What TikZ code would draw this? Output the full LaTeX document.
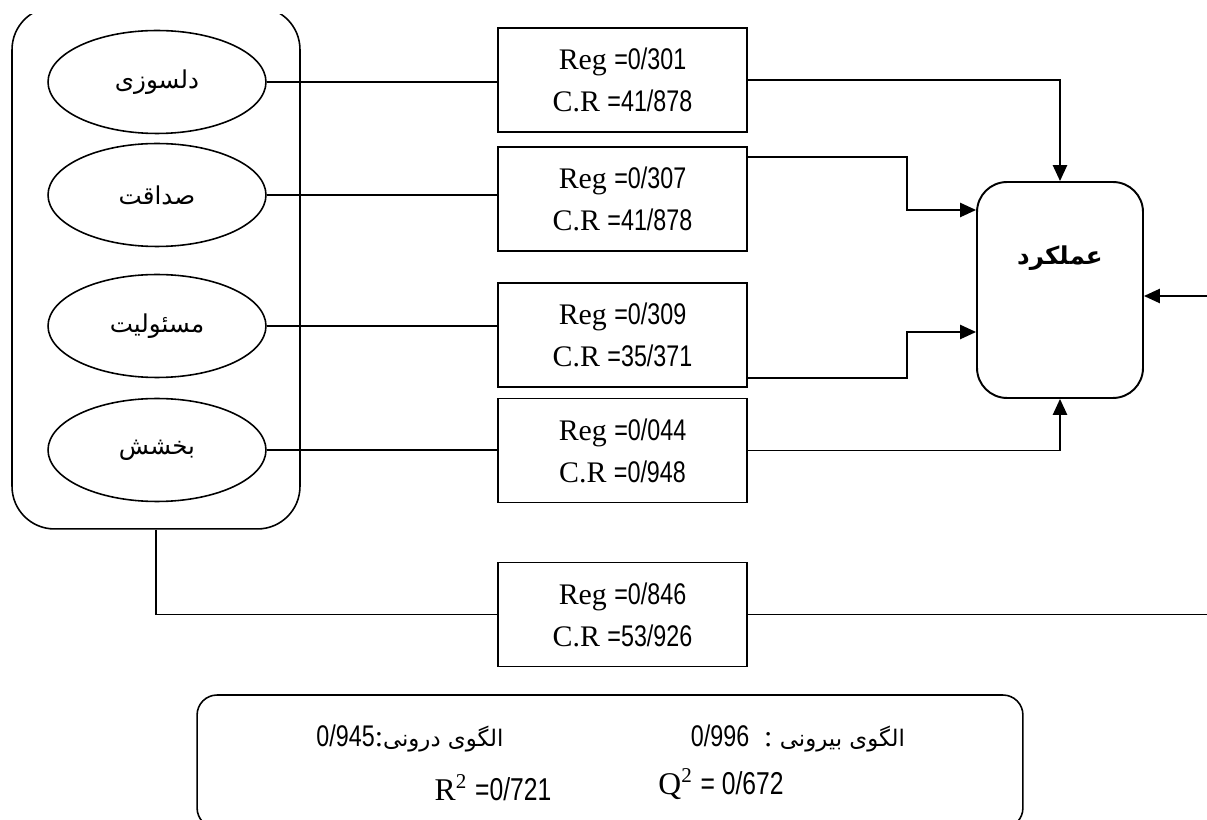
\documentclass[tikz,border=0pt]{standalone}
\usepackage{fontspec}
\setmainfont{Liberation Serif}
\newfontfamily\fa[Script=Arabic]{DejaVu Sans}
\newfontfamily\digits[FakeStretch=0.78]{Liberation Sans}
\TeXXeTstate=1
\usetikzlibrary{arrows.meta,calc,shapes.geometric}
\newcommand{\farsi}[1]{{\fa\beginR #1\endR}}
\newcommand{\numtxt}[1]{{\digits #1}}
\newcommand{\sqr}{\textsuperscript{\fontsize{12}{12}\selectfont 2}}
\tikzset{
	factor/.style={ellipse, draw, line width=0.9pt, minimum width=4.36cm, minimum height=2.06cm, inner sep=0pt, font=\fontsize{14}{16}\selectfont},
	coef/.style={rectangle, draw, line width=1.1pt, minimum width=4.98cm, minimum height=2.08cm, inner sep=0pt, align=center, font=\fontsize{17}{24}\selectfont},
	link/.style={line width=1.1pt},
	arr/.style={line width=1.1pt, -{Triangle[length=9pt,width=8pt]}},
}

\begin{document}
\begin{tikzpicture}[x=0.02cm, y=-0.02cm]
			%%%%% START %%%%%
			\useasboundingbox (0,0) rectangle (1207,820);
			
			\begin{scope}
			\clip (0,15) rectangle (1207,820);
			\node[draw, line width=0.9pt, rounded corners=0.85cm, minimum width=5.76cm, minimum height=10.44cm] (grp) at (156,268) {};
			\node[draw, line width=0.9pt, rounded corners=0.4cm, minimum width=16.52cm, minimum height=2.66cm] (fitbox) at (610,761.5) {};
			\end{scope}
			
			\node[factor] (e1) at (157,82) {\farsi{دلسوزی}};
			\node[factor] (e2) at (157,195) {\farsi{صداقت}};
			\node[factor] (e3) at (157,326) {\farsi{مسئولیت}};
			\node[factor] (e4) at (157,450) {\farsi{بخشش}};
			
			\node[coef] (r1) at (622.5,80) {Reg \numtxt{=0/301}\\C.R \numtxt{=41/878}};
			\node[coef] (r2) at (622.5,199) {Reg \numtxt{=0/307}\\C.R \numtxt{=41/878}};
			\node[coef] (r3) at (622.5,335) {Reg \numtxt{=0/309}\\C.R \numtxt{=35/371}};
			\node[coef] (r4) at (622.5,450.5) {Reg \numtxt{=0/044}\\C.R \numtxt{=0/948}};
			\node[coef] (r5) at (622.5,614.5) {Reg \numtxt{=0/846}\\C.R \numtxt{=53/926}};
			
			\node[draw, line width=1.1pt, rounded corners=0.6cm, minimum width=3.32cm, minimum height=4.32cm] (perf) at (1060,290) {};
			\node[font=\fa\bfseries\fontsize{14}{17}\selectfont] (perflbl) at (1060,258) {\beginR عملکرد\endR};
			
			\foreach \i in {1,...,4}
				\draw[link] (e\i.east) -- (e\i.east -| r\i.west);
			
			\coordinate (k2) at (907,210);
			\coordinate (k3) at (907,332);
			\coordinate (inR) at (1207,296);
			\coordinate (outR) at (1207,617);
			
			\draw[arr] (r1.east) -| (perf.north);
			\draw[arr] ($(r2.north east)+(0,11)$) -| (k2) -- (k2 -| perf.west);
			\draw[arr] ($(r3.south east)+(0,-10)$) -| (k3) -- (k3 -| perf.west);
			\draw[arr] (r4.east) -| (perf.south);
			\draw[arr] (inR) -- (inR -| perf.east);
			
			\draw[link] (grp.south) |- (r5.west);
			\draw[link] (r5.east) -- (r5.east -| outR);
			
			\node[anchor=base, font=\fontsize{17}{20}\selectfont] (t1) at (410,746) {\numtxt{0/945}:{\fontsize{13}{16}\selectfont\farsi{الگوی درونی}}};
			\node[anchor=base, font=\fontsize{17}{20}\selectfont] (t2) at (798,746) {\numtxt{0/996}\ \ :\ {\fontsize{13}{16}\selectfont\farsi{الگوی بیرونی}}};
			\node[anchor=base, font=\fontsize{18}{20}\selectfont] (t3) at (493,800) {R\sqr\ \numtxt{=0/721}};
			\node[anchor=base, font=\fontsize{18}{20}\selectfont] (t4) at (721,794) {Q\sqr\ \numtxt{= 0/672}};
			%%%%% END %%%%%
\end{tikzpicture}
\end{document}
